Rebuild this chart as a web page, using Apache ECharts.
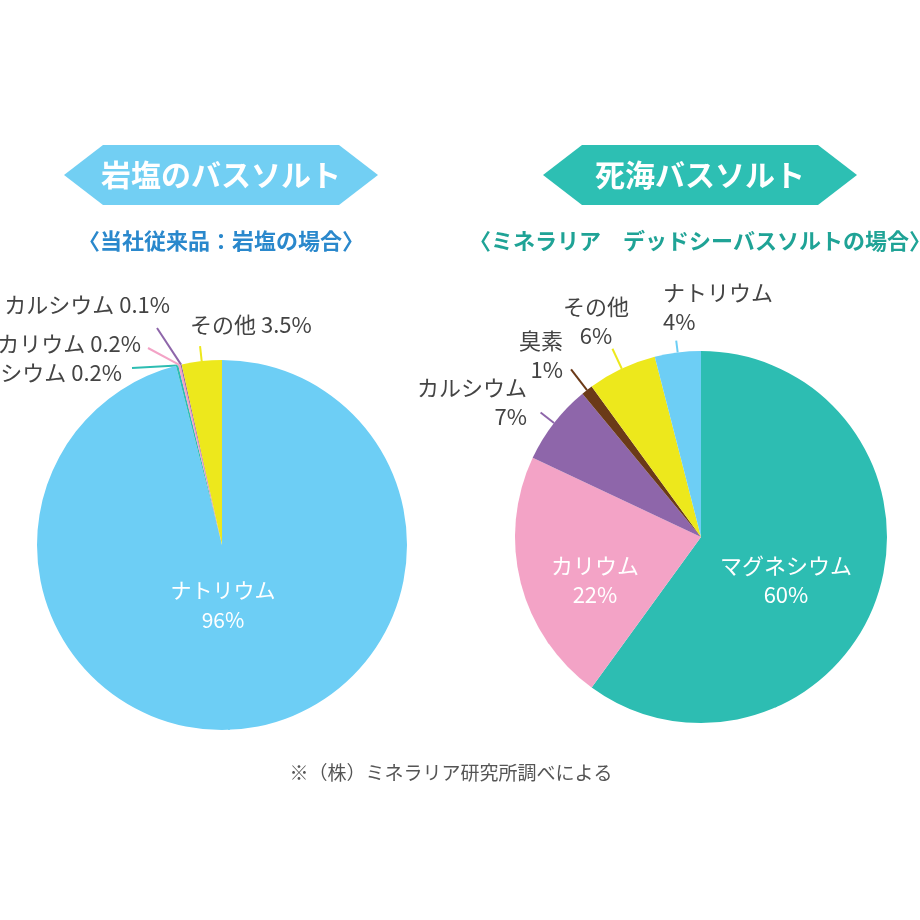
<!DOCTYPE html>
<html>
<head>
<meta charset="utf-8">
<script src="https://cdn.jsdelivr.net/npm/echarts@6/dist/echarts.min.js"></script>
<style>html,body{margin:0;padding:0;background:#fff;}#c{width:920px;height:920px;}</style>
</head>
<body>
<div id="c"></div>
<script>
// ---- data ----
const leftNames = ['ナトリウム', 'マグネシウム', 'カリウム', 'カルシウム', 'その他'];
const leftValues = [96, 0.2, 0.2, 0.1, 3.5];
const rightNames = ['マグネシウム', 'カリウム', 'カルシウム', '臭素', 'その他', 'ナトリウム'];
const rightValues = [60, 22, 7, 1, 6, 4];
const leftTitle = '岩塩のバスソルト';
const leftSubtitle = '〈当社従来品：岩塩の場合〉';
const rightTitle = '死海バスソルト';
const rightSubtitle = '〈ミネラリア　デッドシーバスソルトの場合〉';
const footnote = '※（株）ミネラリア研究所調べによる';

// ---- styles ----
const FONT = '"Noto Sans CJK JP", "Noto Sans", sans-serif';
const C = {
  blue: '#6dcef5', teal: '#2dbdb2', pink: '#f3a3c6', purple: '#8e66aa',
  yellow: '#ede81c', brown: '#6b3a18'
};
const leftColors = [C.blue, C.teal, C.pink, C.purple, C.yellow];
const rightColors = [C.teal, C.pink, C.purple, C.brown, C.yellow, C.blue];

// label anchor positions; "end" = leader end relative to label anchor
const leftLabelPos = [
  { x: 223, y: 605, align: 'center' },
  { x: 122, y: 373, align: 'right', end: [10, -5] },
  { x: 141, y: 344, align: 'right', end: [7, 4] },
  { x: 170, y: 305, align: 'right', end: [-13, 23] },
  { x: 190, y: 325, align: 'left', radial: true }
];
const rightLabelPos = [
  { x: 786, y: 580, align: 'center' },
  { x: 595, y: 580, align: 'center' },
  { x: 527, y: 402, align: 'right', radial: true },
  { x: 563, y: 355, align: 'right', radial: true },
  { x: 596, y: 321, align: 'center', radial: true },
  { x: 663, y: 307, align: 'left', radial: true }
];
const leftLineLen = [0, 2, 2, 2, 15];
const rightLineLen = [0, 0, 17, 26, 22, 12];

const leftData = leftNames.map((n, i) => {
  const d = { name: n, value: leftValues[i], itemStyle: { color: leftColors[i] },
    labelLine: { length: leftLineLen[i], length2: 4 } };
  if (i === 0) d.label = { position: 'inside', formatter: '{b}\n{c}%', color: '#fff', lineHeight: 30, fontSize: 21 };
  return d;
});
const rightData = rightNames.map((n, i) => {
  const d = { name: n, value: rightValues[i], itemStyle: { color: rightColors[i] },
    labelLine: { length: rightLineLen[i], length2: 0 } };
  if (i < 2) d.label = { position: 'inside', color: '#fff', fontSize: 22 };
  return d;
});

function makeLayout(posArr) {
  return function (params) {
    const p = posArr[params.dataIndex];
    const out = { x: p.x, y: p.y, align: p.align, verticalAlign: 'middle' };
    const pts = params.labelLinePoints;
    if (pts && p.radial) {
      out.labelLinePoints = [pts[0], pts[1]];
    } else if (pts && p.end) {
      out.labelLinePoints = [pts[0], [p.x + p.end[0], p.y + p.end[1]]];
    }
    return out;
  };
}

function banner(cx, color) {
  const w1 = 118, w2 = 157, h = 30;
  return {
    type: 'polygon',
    shape: { points: [[cx - w2, 175], [cx - w1, 175 - h], [cx + w1, 175 - h], [cx + w2, 175], [cx + w1, 175 + h], [cx - w1, 175 + h]] },
    style: { fill: color }
  };
}

const chart = echarts.init(document.getElementById('c'));
chart.setOption({
  animation: false,
  backgroundColor: '#fff',
  graphic: [
    banner(221, '#72cff3'),
    banner(700, '#2dbfb3'),
    { type: 'text', x: 221, y: 175, style: { text: leftTitle, fill: '#fff', font: 'bold 30px ' + FONT, align: 'center', verticalAlign: 'middle' } },
    { type: 'text', x: 700, y: 175, style: { text: rightTitle, fill: '#fff', font: 'bold 30px ' + FONT, align: 'center', verticalAlign: 'middle' } },
    { type: 'text', x: 221, y: 241, style: { text: leftSubtitle, fill: '#2a88cc', font: 'bold 22px ' + FONT, align: 'center', verticalAlign: 'middle' } },
    { type: 'text', x: 700, y: 241, style: { text: rightSubtitle, fill: '#1fa396', font: 'bold 22px ' + FONT, align: 'center', verticalAlign: 'middle' } },
    { type: 'text', x: 451, y: 773, style: { text: footnote, fill: '#555', font: '19px ' + FONT, align: 'center', verticalAlign: 'middle' } }
  ],
  series: [
    {
      type: 'pie',
      center: [222, 545],
      radius: [0, 185],
      startAngle: 90,
      clockwise: true,
      avoidLabelOverlap: false,
      silent: true,
      itemStyle: { borderWidth: 0 },
      label: { show: true, formatter: '{b} {c}%', fontSize: 22, color: '#444', fontFamily: FONT },
      labelLine: { show: true, lineStyle: { width: 2 } },
      labelLayout: makeLayout(leftLabelPos),
      data: leftData
    },
    {
      type: 'pie',
      center: [701, 537],
      radius: [0, 186],
      startAngle: 90,
      clockwise: true,
      avoidLabelOverlap: false,
      silent: true,
      itemStyle: { borderWidth: 0 },
      label: { show: true, formatter: '{b}\n{c}%', fontSize: 22, lineHeight: 29, color: '#444', fontFamily: FONT },
      labelLine: { show: true, lineStyle: { width: 2 } },
      labelLayout: makeLayout(rightLabelPos),
      data: rightData
    }
  ]
});
</script>
</body>
</html>
